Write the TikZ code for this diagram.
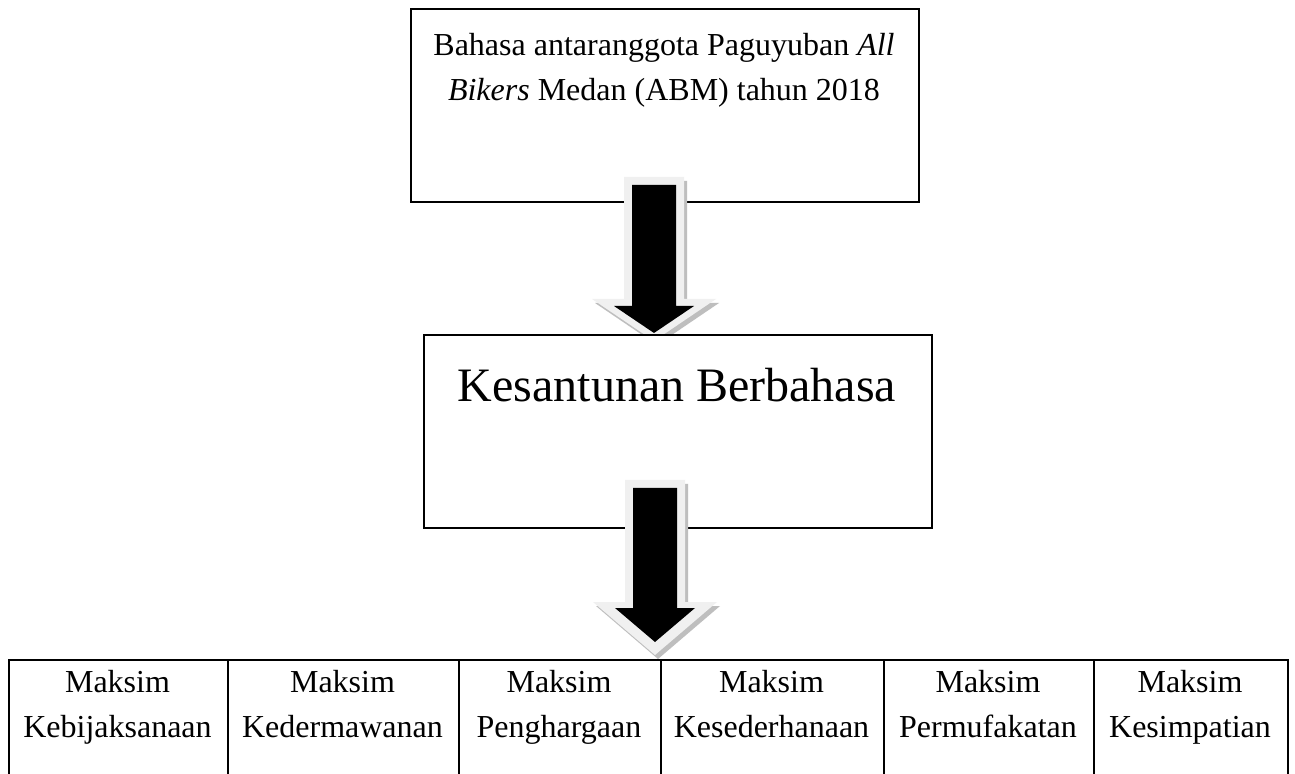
\documentclass[tikz,border=0pt]{standalone}
\usepackage{fontspec}
\setmainfont{Liberation Serif}
\definecolor{shadowgray}{HTML}{BEBEBE}
\definecolor{outlinegray}{HTML}{F0F0F0}
\newcommand{\blockarrow}[7]{%
  \fill[shadowgray,shift={(3,4)}] ({#1-30},#5) -- ({#1+30},#5) -- ({#1+30},#6) -- ({#1+62},#6) -- (#1,#7) -- ({#1-62},#6) -- ({#1-30},#6) -- cycle;
  \fill[outlinegray] ({#1-30},#5) -- ({#1+30},#5) -- ({#1+30},#6) -- ({#1+62},#6) -- (#1,#7) -- ({#1-62},#6) -- ({#1-30},#6) -- cycle;
  \fill[black] ({#1-22},#2) -- ({#1+22},#2) -- ({#1+22},#3) -- ({#1+40},#3) -- (#1,#4) -- ({#1-40},#3) -- ({#1-22},#3) -- cycle;
}
\begin{document}
\begin{tikzpicture}[x=0.5pt,y=-0.5pt,
  box/.style={draw,line width=1pt,fill=white,inner sep=0pt,anchor=north west},
  txt/.style={inner sep=0pt,align=center,font=\fontsize{16}{22.5}\selectfont},
  bigtxt/.style={inner sep=0pt,align=center,font=\fontsize{24}{28}\selectfont}]
\useasboundingbox (0,0) rectangle (1295,774);
\clip (0,0) rectangle (1295,774);
\fill[white] (0,0) rectangle (1295,774);
% top box
\node[box,minimum width=254pt,minimum height=96.5pt] (top) at (410,8) {};
\node[txt] (toptext) at (664,69) {Bahasa antaranggota Paguyuban \textit{All}\strut\\\textit{Bikers} Medan (ABM) tahun 2018\strut};
% arrow 1
\blockarrow{654}{185}{306}{333}{177}{299}{341}
% middle box
\node[box,minimum width=254pt,minimum height=96.5pt] (mid) at (423,334) {};
\node[bigtxt] (midtext) at (677,385) {Kesantunan Berbahasa};
% arrow 2
\blockarrow{655}{488}{608}{642}{480}{602}{655}
% table
\node[box,minimum width=109.5pt,minimum height=70pt] (c1) at (8,659) {};
\node[box,minimum width=115.5pt,minimum height=70pt] (c2) at (227,659) {};
\node[box,minimum width=101pt,minimum height=70pt] (c3) at (458,659) {};
\node[box,minimum width=111.5pt,minimum height=70pt] (c4) at (660,659) {};
\node[box,minimum width=105pt,minimum height=70pt] (c5) at (883,659) {};
\node[box,minimum width=97pt,minimum height=70pt] (c6) at (1093,659) {};
\node[txt] (t1) at (117.5,706) {Maksim\strut\\Kebijaksanaan\strut};
\node[txt] (t2) at (342.5,706) {Maksim\strut\\Kedermawanan\strut};
\node[txt] (t3) at (559,706) {Maksim\strut\\Penghargaan\strut};
\node[txt] (t4) at (771.5,706) {Maksim\strut\\Kesederhanaan\strut};
\node[txt] (t5) at (988,706) {Maksim\strut\\Permufakatan\strut};
\node[txt] (t6) at (1190,706) {Maksim\strut\\Kesimpatian\strut};
\end{tikzpicture}
\end{document}
